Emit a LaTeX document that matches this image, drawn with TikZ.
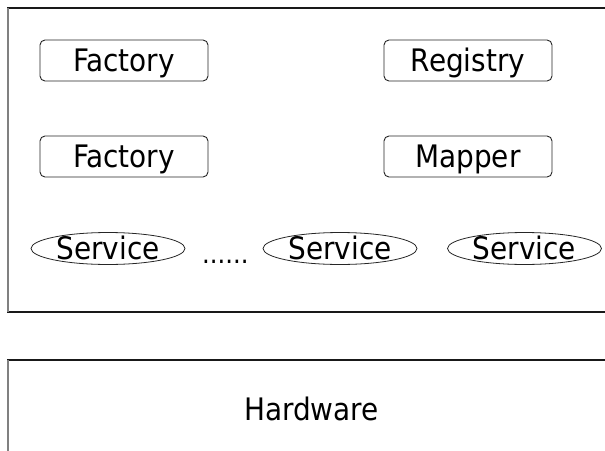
\documentclass[tikz,border=0pt]{standalone}
\usepackage{fontspec}
\setmainfont{DejaVu Sans Condensed}
\usetikzlibrary{shapes.geometric}
\begin{document}
\begin{tikzpicture}[x=1pt,y=-1pt,
  every node/.style={font=\fontsize{31}{35}\selectfont, inner sep=0pt, text height=22.6pt, text depth=0pt},
  compbox/.style={draw=black!85, line width=0.9pt, rounded corners=5pt, minimum width=168pt, minimum height=41pt},
  svc/.style={ellipse, draw=black!85, line width=0.8pt, minimum width=154pt, minimum height=31pt},
  layer/.style={draw=black!90, line width=1.2pt}]
\useasboundingbox (0,0) rectangle (605,450);
\clip (0,0) rectangle (605,450);
\fill[white] (0,0) rectangle (605,450);
% layers
\draw[layer] (620,312) -- (8,312) -- (8,8) -- (620,8);
\draw[layer] (620,360) -- (8,360) -- (8,460);
\draw[draw=black!50, line width=1.2pt] (8,8) -- (8,312);
\draw[draw=black!50, line width=1.2pt] (8,360) -- (8,460);
% component boxes
\node[compbox] (f1) at (124,60.5) {Factory};
\node[compbox] (reg) at (468,60.5) {Registry};
\node[compbox] (f2) at (124,156.5) {Factory};
\node[compbox] (map) at (468,156.5) {Mapper};
% services
\node[svc] (s1) at (108,248.5) {Service};
\node[svc] (s2) at (340,248.5) {Service};
\node[svc] (s3) at (524.5,248.5) {Service};
\node[anchor=base west, text height=, text depth=, font=\fontsize{27}{30}\selectfont] (dots) at (202,263) {......};
% hardware
\node[anchor=base] (hw) at (311.5,420) {Hardware};
\end{tikzpicture}
\end{document}
